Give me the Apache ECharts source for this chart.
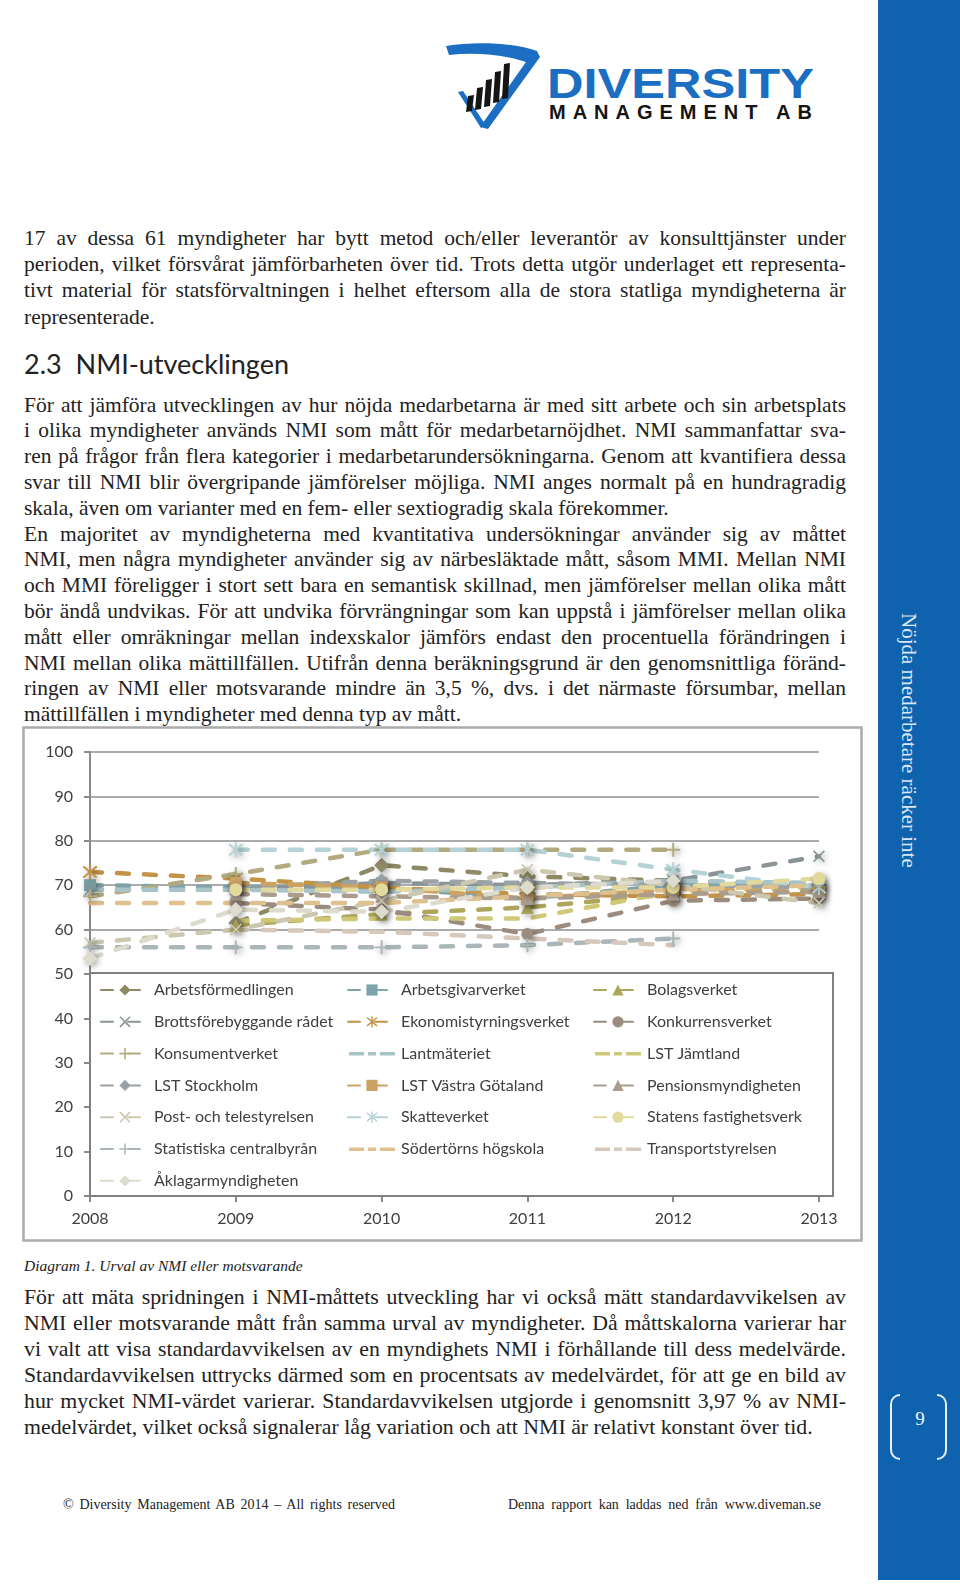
<!DOCTYPE html>
<html>
<head>
<meta charset="utf-8">
<script src="https://cdn.jsdelivr.net/npm/echarts@6/dist/echarts.min.js"></script>
<style>
  html, body { margin:0; padding:0; background:#fff; }
  body { width:960px; height:1587px; position:relative; overflow:hidden; }
  .ln { position:absolute; left:24px; font-family:"Liberation Serif","Times New Roman",serif; font-size:21.5px; line-height:26px; color:#222; white-space:nowrap; }
  .p3 { font-size:21.8px; }
  #chart { position:absolute; left:22px; top:726px; width:842px; height:517px; }
  #side { position:absolute; left:878px; top:0; width:82px; height:1580px; background:#0e62ae; }
  #sidetxt { position:absolute; left:897px; top:613px; writing-mode:vertical-rl; font-family:"Liberation Serif",serif; font-size:21px; color:#dbe7f4; white-space:nowrap; line-height:24px; }
  .br { position:absolute; top:1394px; width:8px; height:62px; border:2px solid #e8f0f8; }
  .foot { position:absolute; top:1496px; font-family:"Liberation Serif",serif; font-size:14px; line-height:18px; color:#222; white-space:nowrap; }
</style>
</head>
<body>
<svg style="position:absolute;left:0;top:0" width="870" height="150">
  <path d="M446,46 C476,41 516,43 537,51 L540,57 L488,129 L480,127 L526,62 C506,55 476,52 449,55 Z" fill="#1b6ec2"/>
  <path d="M458,92 L463,91 L485,124 L481,128 Z" fill="#1b6ec2"/>
  <g fill="#151515">
    <path d="M466,112 L472,111 L474,95 L468,96 Z"/>
    <path d="M475,110 L481,109 L483,87 L477,88 Z"/>
    <path d="M484,107 L490,106 L492,79 L486,80 Z"/>
    <path d="M493,103 L499,102 L501,71 L495,72 Z"/>
    <path d="M502,99 L508,98 L510,63 L504,64 Z"/>
  </g>
  <text x="547" y="98" font-family="Liberation Sans, Arial, sans-serif" font-weight="bold" font-size="42" fill="#1b6ec2" textLength="267" lengthAdjust="spacingAndGlyphs">DIVERSITY</text>
  <text x="549" y="119" font-family="Liberation Sans, Arial, sans-serif" font-weight="bold" font-size="20" fill="#151515" textLength="263" lengthAdjust="spacing">MANAGEMENT AB</text>
</svg>

<div id="side"></div>
<div id="sidetxt">Nöjda medarbetare räcker inte</div>
<div class="br" style="left:890px;border-right:none;border-radius:10px 0 0 10px;"></div>
<div class="br" style="left:937px;border-left:none;border-radius:0 10px 10px 0;"></div>
<div style="position:absolute;left:910px;top:1408px;width:20px;text-align:center;font-family:'Liberation Serif',serif;font-size:19px;color:#eef4fa;">9</div>

<div class="ln fit" style="top:225px">17 av dessa 61 myndigheter har bytt metod och/eller leverantör av konsulttjänster under</div>
<div class="ln fit" style="top:251px">perioden, vilket försvårat jämförbarheten över tid. Trots detta utgör underlaget ett representa-</div>
<div class="ln fit" style="top:277px">tivt material för statsförvaltningen i helhet eftersom alla de stora statliga myndigheterna är</div>
<div class="ln" style="top:304px">representerade.</div>

<div style="position:absolute;left:24px;top:349px;font-family:Lato,'Open Sans',sans-serif;font-size:27px;line-height:30px;color:#222;white-space:nowrap;">2.3&nbsp;&nbsp;NMI-utvecklingen</div>

<div class="ln fit" style="top:391.6px">För att jämföra utvecklingen av hur nöjda medarbetarna är med sitt arbete och sin arbetsplats</div>
<div class="ln fit" style="top:417.4px">i olika myndigheter används NMI som mått för medarbetarnöjdhet. NMI sammanfattar sva-</div>
<div class="ln fit" style="top:443.2px">ren på frågor från flera kategorier i medarbetarundersökningarna. Genom att kvantifiera dessa</div>
<div class="ln fit" style="top:469px">svar till NMI blir övergripande jämförelser möjliga. NMI anges normalt på en hundragradig</div>
<div class="ln" style="top:494.8px">skala, även om varianter med en fem- eller sextiogradig skala förekommer.</div>
<div class="ln fit" style="top:520.6px">En majoritet av myndigheterna med kvantitativa undersökningar använder sig av måttet</div>
<div class="ln fit" style="top:546.4px">NMI, men några myndigheter använder sig av närbesläktade mått, såsom MMI. Mellan NMI</div>
<div class="ln fit" style="top:572.2px">och MMI föreligger i stort sett bara en semantisk skillnad, men jämförelser mellan olika mått</div>
<div class="ln fit" style="top:598px">bör ändå undvikas. För att undvika förvrängningar som kan uppstå i jämförelser mellan olika</div>
<div class="ln fit" style="top:623.8px">mått eller omräkningar mellan indexskalor jämförs endast den procentuella förändringen i</div>
<div class="ln fit" style="top:649.6px">NMI mellan olika mättillfällen. Utifrån denna beräkningsgrund är den genomsnittliga föränd-</div>
<div class="ln fit" style="top:675.4px">ringen av NMI eller motsvarande mindre än 3,5 %, dvs. i det närmaste försumbar, mellan</div>
<div class="ln" style="top:701.2px">mättillfällen i myndigheter med denna typ av mått.</div>

<div id="chart"></div>

<div class="ln" style="top:1256px;font-size:15.5px;line-height:20px;font-style:italic;">Diagram 1. Urval av NMI eller motsvarande</div>

<div class="ln p3 fit" style="top:1284px">För att mäta spridningen i NMI-måttets utveckling har vi också mätt standardavvikelsen av</div>
<div class="ln p3 fit" style="top:1309.9px">NMI eller motsvarande mått från samma urval av myndigheter. Då måttskalorna varierar har</div>
<div class="ln p3 fit" style="top:1335.8px">vi valt att visa standardavvikelsen av en myndighets NMI i förhållande till dess medelvärde.</div>
<div class="ln p3 fit" style="top:1361.7px">Standardavvikelsen uttrycks därmed som en procentsats av medelvärdet, för att ge en bild av</div>
<div class="ln p3 fit" style="top:1387.6px">hur mycket NMI-värdet varierar. Standardavvikelsen utgjorde i genomsnitt 3,97 % av NMI-</div>
<div class="ln p3" style="top:1413.5px">medelvärdet, vilket också signalerar låg variation och att NMI är relativt konstant över tid.</div>

<div class="foot fit" data-w="332" style="left:63px">© Diversity Management AB 2014 – All rights reserved</div>
<div class="foot fit" data-w="313" style="left:508px">Denna rapport kan laddas ned från www.diveman.se</div>

<script>
// ---- data ----
const years = ['2008', '2009', '2010', '2011', '2012', '2013'];
const yTicks = [0, 10, 20, 30, 40, 50, 60, 70, 80, 90, 100];

const arbetsformedlingen   = [null, 61.5, 74.5, 72, 71, 70];
const arbetsgivarverket    = [70, 69.5, 69.5, 67, 70, 70.5];
const bolagsverket         = [null, 61, 63.5, 65, 68, 70];
const brottsforebyggande   = [69, 69, 70.5, 70, 71, 76.5];
const ekonomistyrning      = [73, 71.5, 69.5, 68, 67.5, 68];
const konkurrensverket     = [null, 66, 64.5, 59, 66.5, 67];
const konsumentverket      = [67.5, 72.5, 78, 78, 78, null];
const lantmateriet         = [69, 69, 68.5, 69.5, 71, 70.5];
const lstJamtland          = [null, 62, 62.5, 62.5, 68.5, 69.5];
const lstStockholm         = [null, 69.5, 71, 70.5, 70, 69.5];
const lstVastraGotaland    = [null, 70.5, 69.5, 67, 69, 68.5];
const pensionsmyndigheten  = [null, 68, 67.5, 67, 68, 68.5];
const postTelestyrelsen    = [57, 60, 66.5, 73.5, 70, 66];
const skatteverket         = [null, 78, 78, 78, 73.5, 69.5];
const statensFastighetsverk= [null, 69, 69, 69.5, 69.5, 71.5];
const statistiskaCB        = [56, 56, 56, 56.5, 58, null];
const sodertorn            = [66, 66, 66, 67.5, 69, 70];
const transportstyrelsen   = [null, 60, 59.5, 58, 56.5, null];
const aklagarmyndigheten   = [53.5, 64.5, 64, 69.5, 71, null];

const names = ['Arbetsförmedlingen','Arbetsgivarverket','Bolagsverket','Brottsförebyggande rådet','Ekonomistyrningsverket','Konkurrensverket','Konsumentverket','Lantmäteriet','LST Jämtland','LST Stockholm','LST Västra Götaland','Pensionsmyndigheten','Post- och telestyrelsen','Skatteverket','Statens fastighetsverk','Statistiska centralbyrån','Södertörns högskola','Transportstyrelsen','Åklagarmyndigheten'];
const values = [arbetsformedlingen, arbetsgivarverket, bolagsverket, brottsforebyggande, ekonomistyrning, konkurrensverket, konsumentverket, lantmateriet, lstJamtland, lstStockholm, lstVastraGotaland, pensionsmyndigheten, postTelestyrelsen, skatteverket, statensFastighetsverk, statistiskaCB, sodertorn, transportstyrelsen, aklagarmyndigheten];

// ---- styles ----
const X = 'path://M1,0L5,4L9,0L10,1L6,5L10,9L9,10L5,6L1,10L0,9L4,5L0,1Z';
const STAR = 'path://M1,0L5,4L9,0L10,1L6,5L10,9L9,10L5,6L1,10L0,9L4,5L0,1Z M4.4,-1h1.2v12h-1.2z';
const PLUS = 'path://M4.3,0h1.4v4.3h4.3v1.4h-4.3v4.3h-1.4v-4.3h-4.3v-1.4h4.3z';
const DASHICON = 'path://M0,0h0.01v0.01h-0.01z M47.99,13.99h0.01v0.01h-0.01z M1,5.5h15v3.5h-15z M20,5.5h8v3.5h-8z M32,5.5h15v3.5h-15z';
const colors = ['#8e8a66','#7ea3aa','#aca55a','#8a9496','#c39448','#9a8c7e','#b2ab80','#a9c4c9','#cfc977','#9aa2a5','#cca263','#ab9d8e','#ccc8b0','#b5d2d7','#e2da9c','#abb6b9','#dfc18f','#d6c8bb','#dcdbcd'];
const symbols = ['diamond','rect','triangle',X,STAR,'circle',PLUS,'none','none','diamond','rect','triangle',X,STAR,'circle',PLUS,'none','none','diamond'];
const sizes = [15,12,13,12,15,12,14,0,0,15,12,13,12,15,13,14,0,0,15];

const chart = echarts.init(document.getElementById('chart'), null, {renderer:'canvas'});
const font = 'Lato, "Open Sans", sans-serif';

const series = names.map((n, i) => ({
  type: 'line', name: n, data: values[i],
  symbol: symbols[i], symbolSize: sizes[i] || 1, showSymbol: true,
  lineStyle: { color: colors[i], width: 4.5, type: [12, 15], cap: 'round' },
  itemStyle: { color: colors[i], shadowBlur: 6, shadowColor: 'rgba(0,0,0,0.35)', shadowOffsetX: 2, shadowOffsetY: 2 },
  emphasis: { disabled: true }, z: 2, animation: false
}));

const legendLeft = [78, 325, 571];
const legends = [0, 1, 2].map(c => ({
  orient: 'vertical', left: legendLeft[c], top: 256, padding: 0,
  itemWidth: 48, itemHeight: 14, itemGap: 15.8,
  data: names.map((n, i) => symbols[i] === 'none' ? { name: n, icon: DASHICON, itemStyle: { color: colors[i] } } : { name: n })
             .filter((_, i) => i % 3 === c),
  textStyle: { fontFamily: font, fontSize: 16, color: '#404040', lineHeight: 14 },
  itemStyle: { shadowBlur: 0, shadowOffsetX: 0, shadowOffsetY: 0 },
  selectedMode: false, z: 5
}));

chart.setOption({
  animation: false,
  grid: { left: 68, top: 26, width: 729, height: 444 },
  xAxis: {
    type: 'category', data: years, boundaryGap: false,
    axisLine: { lineStyle: { color: '#8a8a8a', width: 2 } },
    axisTick: { show: true, length: 6, lineStyle: { color: '#8a8a8a', width: 2 } },
    axisLabel: { fontFamily: font, fontSize: 16, color: '#404040', margin: 15 },
    splitLine: { show: false }
  },
  yAxis: {
    type: 'value', min: yTicks[0], max: yTicks[yTicks.length - 1], interval: 10,
    axisLine: { show: true, lineStyle: { color: '#8a8a8a', width: 2 } },
    axisTick: { show: true, length: 6, lineStyle: { color: '#8a8a8a', width: 2 } },
    axisLabel: { fontFamily: font, fontSize: 16, color: '#404040', margin: 17 },
    splitLine: { show: true, lineStyle: { color: '#8f8f8f', width: 1.5 } }
  },
  legend: legends,
  graphic: [
    { type: 'rect', shape: { x: 1.5, y: 1.5, width: 838, height: 513 }, style: { fill: 'none', stroke: '#ababab', lineWidth: 2.5 }, z: 0, silent: true },
    { type: 'rect', shape: { x: 68, y: 247, width: 743, height: 223 }, style: { fill: '#ffffff', stroke: '#808080', lineWidth: 2 }, z: 1, silent: true }
  ],
  series: series
});

// justify text lines to the column width
document.querySelectorAll('.fit').forEach(el => {
  const target = parseFloat(el.dataset.w || '822');
  const w = el.getBoundingClientRect().width;
  const n = (el.textContent.match(/ /g) || []).length;
  if (n > 0) el.style.wordSpacing = ((target - w) / n) + 'px';
});
</script>
</body>
</html>
